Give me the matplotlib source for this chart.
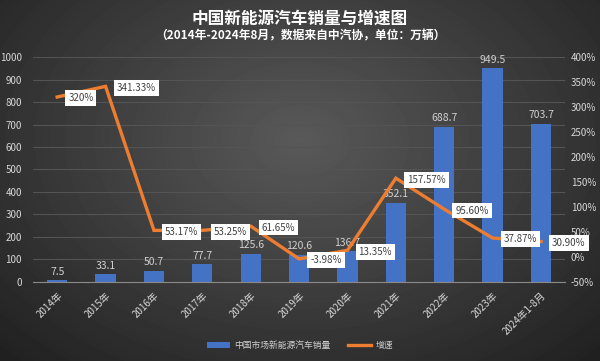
import matplotlib

matplotlib.use("Agg")
import matplotlib.pyplot as plt
import numpy as np

plt.rcParams["font.family"] = ["Noto Sans CJK SC", "DejaVu Sans"]

categories = ["2014年", "2015年", "2016年", "2017年", "2018年", "2019年",
              "2020年", "2021年", "2022年", "2023年", "2024年1-8月"]
sales = [7.5, 33.1, 50.7, 77.7, 125.6, 120.6, 136.7, 352.1, 688.7, 949.5, 703.7]
growth = [320, 341.33, 53.17, 53.25, 61.65, -3.98, 13.35, 157.57, 95.60, 37.87, 30.90]
growth_labels = ["320%", "341.33%", "53.17%", "53.25%", "61.65%", "-3.98%",
                 "13.35%", "157.57%", "95.60%", "37.87%", "30.90%"]
title = "中国新能源汽车销量与增速图"
subtitle = "（2014年-2024年8月，数据来自中汽协，单位：万辆）"

fig = plt.figure(figsize=(6.0, 3.61), dpi=100)

# dark radial background
bg = fig.add_axes([0, 0, 1, 1])
yy, xx = np.mgrid[0:361, 0:600]
r = np.sqrt(((xx - 300) / 420.0) ** 2 + ((yy - 140) / 300.0) ** 2)
shade = np.clip(0.35 - 0.22 * r, 0.12, 0.35)
bg.imshow(shade, cmap="gray", vmin=0, vmax=1, aspect="auto", extent=[0, 1, 0, 1])
bg.set_axis_off()

ax = fig.add_axes([0.055, 0.219, 0.887, 0.623])
ax.patch.set_alpha(0)
x = np.arange(len(categories))
ax.set_xlim(-0.5, len(categories) - 0.5)
ax.set_ylim(0, 1000)
ax.set_yticks(np.arange(0, 1001, 100))
ax.grid(axis="y", color="#545454", linewidth=0.8)
ax.set_axisbelow(True)
for side in ["top", "right", "left"]:
    ax.spines[side].set_visible(False)
ax.spines["bottom"].set_color("#8a8a8a")
ax.tick_params(axis="both", length=0, colors="#d8d8d8", labelsize=7)
ax.tick_params(axis="y", pad=8)
ax.set_xticks(x, categories, rotation=45, ha="right", rotation_mode="anchor")
ax.tick_params(axis="x", pad=6)

bars = ax.bar(x, sales, width=0.42, color="#4472c4", zorder=2, label="中国市场新能源汽车销量")
for xi, v in zip(x, sales):
    ax.text(xi, v + 16, f"{v:g}", ha="center", va="bottom", fontsize=7.5, color="#d0d0d0")

ax2 = ax.twinx()
ax2.set_ylim(-50, 400)
ax2.set_yticks(np.arange(-50, 401, 50), [f"{v}%" for v in range(-50, 401, 50)])
for side in ["top", "right", "left", "bottom"]:
    ax2.spines[side].set_visible(False)
ax2.tick_params(axis="y", length=0, colors="#d8d8d8", labelsize=7, pad=4)
line, = ax2.plot(x, growth, color="#ed7d31", linewidth=2.4, zorder=3, label="增速",
                 solid_joinstyle="miter")
for xi, v, lab in zip(x, growth, growth_labels):
    ax2.annotate(lab, (xi, v), xytext=(8, -1), textcoords="offset points",
                 ha="left", va="center", fontsize=7, color="#404040",
                 bbox=dict(boxstyle="square,pad=0.3", fc="white", ec="none"), zorder=4)

fig.text(0.5, 0.945, title, ha="center", va="center", fontsize=12, color="white", fontweight="bold")
fig.text(0.5, 0.900, subtitle, ha="center", va="center", fontsize=8.5, color="white", fontweight="bold")

leg = fig.legend([bars, line], ["中国市场新能源汽车销量", "增速"], loc="center",
                 bbox_to_anchor=(0.5, 0.042), ncol=2, frameon=False, fontsize=6.3,
                 labelcolor="#d0d0d0", handlelength=2.6, handletextpad=0.5, columnspacing=2)

fig.savefig("out.png", dpi=100)
plt.close(fig)
